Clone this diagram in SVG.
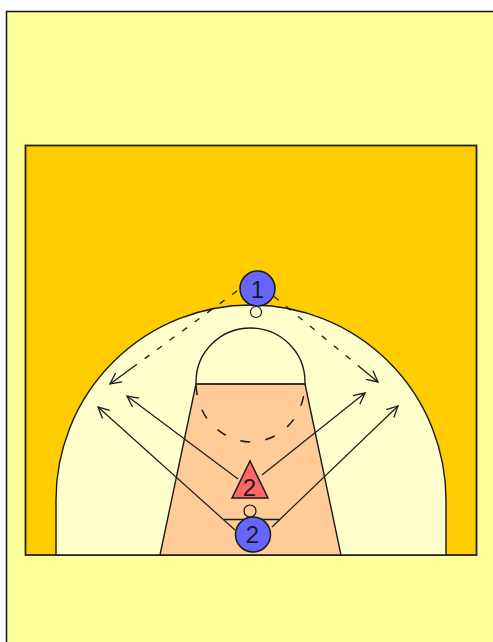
<svg xmlns="http://www.w3.org/2000/svg" width="493" height="642" viewBox="0 0 493 642">
<style>
.l{fill:none;stroke:#1a1a1a;stroke-width:1.3}
.a{fill:none;stroke:#1a1a1a;stroke-width:1.2}
.dc{fill:none;stroke:#1a1a1a;stroke-width:1.500;stroke-dasharray:10 15.500}
.d7{fill:none;stroke:#1a1a1a;stroke-width:1.300;stroke-dasharray:6 9.500 6 9.500 6 9.500 6 9.500 6 9.500 6 9.500 6 9.500 60 0}
.d8{fill:none;stroke:#1a1a1a;stroke-width:1.300;stroke-dasharray:6 9.500 6 9.500 6 9.500 6 9.500 6 9.500 6 9.500 6 9.500 6 9.500 60 0}
.t{font-family:"Liberation Sans",Arial,sans-serif;font-size:24px;fill:#1a1a1a;text-anchor:middle}
.n{stroke:#1a1a1a;stroke-width:1.500}
</style>
<defs>
<marker id="o" markerUnits="userSpaceOnUse" markerWidth="16" markerHeight="16" refX="12" refY="6" orient="auto" overflow="visible"><path d="M1 0.500L12 6L1 11.500" fill="none" stroke="#1a1a1a" stroke-width="1.300"/></marker>
</defs>
<rect width="493" height="642" fill="#fff"/>
<rect x="6.500" y="11.500" width="490" height="634" fill="#ffff99" stroke="#111" stroke-width="1.500"/>
<g id="court">
<rect x="25.500" y="145.500" width="451" height="409.500" fill="#ffcc00" stroke="#222" stroke-width="1.800"/>
<path d="M56 555V500A195 195 0 0 1 446 500V555Z" fill="#ffffcc" stroke="#1a1a1a" stroke-width="1.400"/>
<path d="M160 555L196 384H305L341 555Z" fill="#ffcc99" stroke="#1a1a1a" stroke-width="1.400"/>
<path d="M196 384V382A54.500 54 0 0 1 305 382V384Z" fill="#ffffcc" stroke="#1a1a1a" stroke-width="1.400"/>
<path d="M196 384H305" fill="none" stroke="#333" stroke-width="2"/>
<path d="M196 385C198 424 228 442 251 442C274 442 303 424 305 385" class="dc"/>
<path d="M224 519.500H280" class="l"/>
<circle cx="250" cy="511" r="6" fill="#ffffcc" class="a"/>
<circle cx="256" cy="312" r="5.500" fill="#ffffff" class="a"/>
</g>
<g id="connectors">
<path d="M238 479L127 396" class="a" marker-end="url(#o)"/>
<path d="M262 475L365 393" class="a" marker-end="url(#o)"/>
<path d="M235 530L98 407" class="a" marker-end="url(#o)"/>
<path d="M272 527L398 406" class="a" marker-end="url(#o)"/>
<path d="M237 291L110 384" class="d8" marker-end="url(#o)"/>
<path d="M274 296.500L378 382" class="d7" marker-end="url(#o)"/>
</g>
<g id="node-1"><circle cx="257.500" cy="288.500" r="17.500" fill="#6666ff" class="n"/><text x="257.500" y="298" class="t">1</text></g>
<g id="node-2-triangle"><path d="M250 461L268 498H232Z" fill="#ff6666" class="n"/><text x="249.500" y="496" class="t">2</text></g>
<g id="node-2-circle"><circle cx="253" cy="534.500" r="17.500" fill="#6666ff" class="n"/><text x="252.500" y="543" class="t">2</text></g>
</svg>
